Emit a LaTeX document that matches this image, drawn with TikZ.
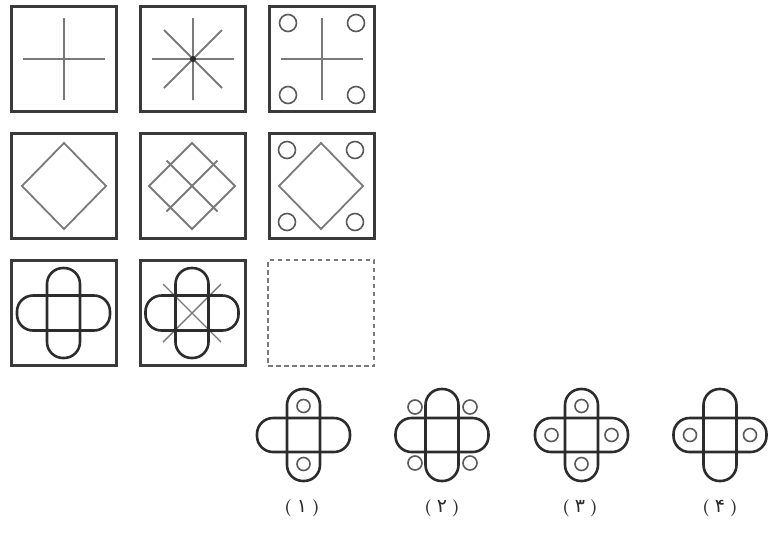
\documentclass[tikz,border=0pt]{standalone}
\usepackage{fontspec}
\newfontfamily\arabicfont[Script=Arabic]{DejaVu Sans}
\definecolor{frameC}{HTML}{3A3A3A}
\definecolor{thinC}{HTML}{7A7A7A}
\definecolor{pillC}{HTML}{2C2C2C}
\definecolor{ringC}{HTML}{5A5A5A}
\newcommand{\optlabel}[1]{\textbf{(}\hspace{5pt}{\arabicfont\fontsize{19}{21}\selectfont #1}\hspace{5pt}\textbf{)}}
\begin{document}
\begin{tikzpicture}[x=1pt,y=-1pt,
  frame/.style={draw=frameC,line width=3pt,minimum width=105pt,minimum height=105pt,inner sep=0pt},
  emptyframe/.style={draw=thinC,line width=2.8pt,dash pattern=on 4.5pt off 3.5pt,minimum width=106pt,minimum height=106pt,inner sep=0pt},
  thinline/.style={draw=thinC,line width=1.8pt},
  ring/.style={draw=ringC,line width=1.6pt},
  pill/.style={draw=pillC,line width=2.6pt,rounded corners=16pt},
  lab/.style={font=\fontsize{17}{19}\selectfont,text=pillC,inner sep=0pt}
]
\useasboundingbox (0,0) rectangle (784,547);

% ---- matrix frames ----
\node[frame] (b11) at (64,59) {};
\node[frame] (b12) at (193,59) {};
\node[frame] (b13) at (322,59) {};
\node[frame] (b21) at (64,186) {};
\node[frame] (b22) at (193,186) {};
\node[frame] (b23) at (322,186) {};
\node[frame] (b31) at (64,313) {};
\node[frame] (b32) at (193,313) {};
\node[emptyframe] (b33) at (321,313) {};

% ---- row 1 ----
\begin{scope}[shift={(64,59)}]
  \draw[thinline] (-41,0) -- (41,0) (0,-41) -- (0,41);
\end{scope}
\begin{scope}[shift={(193,59)}]
  \draw[thinline] (-41,0) -- (41,0) (0,-41) -- (0,41)
                  (-29,-29) -- (29,29) (-29,29) -- (29,-29);
  \fill[pillC] (0,0) circle (3);
\end{scope}
\begin{scope}[shift={(322,59)}]
  \draw[thinline] (-41,0) -- (41,0) (0,-41) -- (0,41);
  \foreach \cx/\cy in {-34/-36,34/-36,-34/36,34/36}
    \draw[ring] (\cx,\cy) circle (8.5);
\end{scope}

% ---- row 2 ----
\begin{scope}[shift={(64,186)}]
  \draw[thinline] (-42,0) -- (0,-43) -- (42,0) -- (0,43) -- cycle;
\end{scope}
\begin{scope}[shift={(192,186)}]
  \draw[thinline] (-43,0) -- (0,-43) -- (43,0) -- (0,43) -- cycle;
  \draw[thinline] (-25.5,-25.5) -- (25.5,25.5) (-25.5,25.5) -- (25.5,-25.5);
\end{scope}
\begin{scope}[shift={(321,186)}]
  \draw[thinline] (-42,0) -- (0,-43) -- (42,0) -- (0,43) -- cycle;
  \foreach \cx/\cy in {-34/-36,34/-36,-34/36,34/36}
    \draw[ring] (\cx,\cy) circle (8.5);
\end{scope}

% ---- row 3 ----
\begin{scope}[shift={(63.5,313)}]
  \draw[pill] (-16.5,-45) rectangle (16.5,45);
  \draw[pill] (-46.5,-17.5) rectangle (46.5,17.5);
\end{scope}
\begin{scope}[shift={(192,313)}]
  \draw[thinline,line width=1.4pt] (-29,-29) -- (29,29) (-29,29) -- (29,-29);
  \draw[pill] (-16.5,-45) rectangle (16.5,45);
  \draw[pill] (-46.5,-17.5) rectangle (46.5,17.5);
\end{scope}

% ---- options ----
\begin{scope}[shift={(303.5,435)}]
  \draw[pill] (-16.5,-46) rectangle (16.5,46);
  \draw[pill] (-46.5,-17) rectangle (46.5,17);
  \foreach \cx/\cy in {0/-29,0/29}
    \draw[ring] (\cx,\cy) circle (6.5);
\end{scope}
\begin{scope}[shift={(442,435)}]
  \draw[pill] (-16.5,-46) rectangle (16.5,46);
  \draw[pill] (-46.5,-17) rectangle (46.5,17);
  \foreach \cx/\cy in {-27/-28,28/-28,-27/28,28/28}
    \draw[ring] (\cx,\cy) circle (7);
\end{scope}
\begin{scope}[shift={(581.5,435)}]
  \draw[pill] (-16.5,-46) rectangle (16.5,46);
  \draw[pill] (-46.5,-17) rectangle (46.5,17);
  \foreach \cx/\cy in {0/-29,0/29,-30/0,30/0}
    \draw[ring] (\cx,\cy) circle (6.5);
\end{scope}
\begin{scope}[shift={(720,435)}]
  \draw[pill] (-16.5,-46) rectangle (16.5,46);
  \draw[pill] (-46.5,-17) rectangle (46.5,17);
  \foreach \cx/\cy in {-30/0,30/0}
    \draw[ring] (\cx,\cy) circle (6.5);
\end{scope}

% ---- labels ----
\node[lab] (l1) at (302,508) {\optlabel{۱}};
\node[lab] (l2) at (442,508) {\optlabel{۲}};
\node[lab] (l3) at (580,508) {\optlabel{۳}};
\node[lab] (l4) at (720,508) {\optlabel{۴}};
\end{tikzpicture}
\end{document}
